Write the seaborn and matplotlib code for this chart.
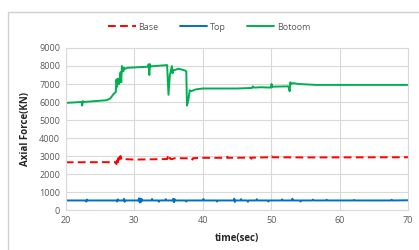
import matplotlib
matplotlib.use('Agg')
import matplotlib.pyplot as plt
import seaborn as sns
import pandas as pd
from matplotlib.patches import Rectangle

# values (time in sec, axial force in kN)
base_t = [20, 27.2, 27.4, 27.5, 27.6, 27.7, 27.8, 27.9, 28.0, 28.1, 28.3, 28.5, 30, 34.8, 34.9, 35.0, 35.2, 35.4, 36,
          38.4, 38.5, 38.6, 40, 43.5, 43.6, 43.7, 47, 47.1, 47.2, 50, 50.1, 50.2, 55, 70]
base_v = [2650, 2660, 2550, 2800, 2600, 2900, 2650, 2950, 3000, 2850, 2900, 2830, 2800, 2830, 2950, 2780, 2900, 2820, 2880,
          2870, 2800, 2880, 2900, 2900, 2960, 2900, 2910, 2850, 2910, 2930, 2980, 2930, 2920, 2930]

top_t = [20, 22.9, 23.0, 23.1, 23.2, 27.4, 27.5, 27.6, 27.7, 28.4, 28.5, 28.6, 28.7, 30.6, 30.7, 30.8, 30.9, 31.0, 31.1, 31.2,
         32.5, 32.6, 32.7, 33.5, 33.6, 33.7, 34.5, 34.6, 34.7, 35.6, 35.7, 35.8, 35.9, 36.0, 37.5, 37.6, 37.7,
         40.0, 40.1, 40.2, 42.0, 42.1, 42.2, 44.5, 44.6, 44.7, 44.8, 45.5, 45.6, 45.7, 46.5, 46.6, 46.7,
         47.8, 47.9, 48.0, 49.5, 49.6, 49.7, 51.5, 51.6, 51.7, 53.0, 53.1, 53.2, 54.2, 54.3, 54.4,
         56.0, 56.1, 56.2, 58.0, 58.1, 58.2, 62.0, 62.1, 62.2, 67.5, 67.6, 67.7, 70]
top_v = [530, 530, 470, 580, 530, 530, 470, 590, 530, 530, 620, 460, 530, 530, 650, 420, 630, 450, 600, 530,
         530, 610, 530, 530, 460, 530, 530, 600, 530, 530, 620, 430, 600, 530, 530, 470, 530,
         530, 610, 530, 530, 470, 530, 530, 630, 450, 530, 530, 600, 530, 530, 460, 530,
         530, 600, 530, 530, 470, 530, 530, 590, 530, 530, 630, 530, 530, 470, 530,
         530, 580, 530, 530, 570, 530, 530, 560, 530, 530, 570, 530, 540]

bottom_t = [20, 22.3, 22.4, 22.5, 22.6, 26, 26.5, 27.0, 27.3, 27.4, 27.5, 27.6, 27.8, 28.0, 28.1, 28.2, 28.4, 28.5, 28.7, 29, 30,
            32.0, 32.1, 32.2, 32.3, 32.4, 34.8, 35.0, 35.2, 35.3, 35.5, 35.6, 35.7, 36.5, 37.4, 37.6, 37.7, 37.9, 38.1, 38.3,
            39, 40, 45, 47.2, 47.3, 47.5, 48.5, 50, 50.05, 50.1, 50.2, 52.5, 52.7, 52.8, 52.9, 53.2, 54, 56.5, 70]
bottom_v = [5950, 6000, 5800, 6050, 6000, 6100, 6200, 6450, 6550, 7250, 6850, 7300, 7000, 7650, 7100, 8000, 7700, 7900, 7850, 7900, 7920,
            7960, 8100, 7500, 8100, 7980, 8050, 6400, 7500, 7650, 8000, 7600, 7750, 7850, 7750, 7700, 5800, 6100, 6650, 6600,
            6700, 6750, 6750, 6780, 6870, 6800, 6820, 6800, 7000, 6830, 6850, 6870, 6600, 7100, 7000, 7050, 7000, 6950, 6950]

df_base = pd.DataFrame({'t': base_t, 'v': base_v})
df_top = pd.DataFrame({'t': top_t, 'v': top_v})
df_bottom = pd.DataFrame({'t': bottom_t, 'v': bottom_v})

sns.set_style('whitegrid')
plt.rcParams['font.family'] = ['Open Sans', 'DejaVu Sans']

fig = plt.figure(figsize=(4.19, 2.5), dpi=100)
ax = fig.add_axes([0.157, 0.16, 0.817, 0.648])

sns.lineplot(data=df_base, x='t', y='v', ax=ax, color='#FF0000', lw=1.4, label='Base', estimator=None, sort=False)
ax.lines[-1].set_dashes([4, 2.2])
sns.lineplot(data=df_top, x='t', y='v', ax=ax, color='#0070C0', lw=1.4, label='Top', estimator=None, sort=False)
sns.lineplot(data=df_bottom, x='t', y='v', ax=ax, color='#00B050', lw=1.4, label='Botoom', estimator=None, sort=False)

ax.set_xlim(20, 70)
ax.set_ylim(0, 9000)
ax.set_xticks(range(20, 71, 10))
ax.set_yticks(range(0, 9001, 1000))
ax.grid(True, color='#d9d9d9', lw=0.8)
for s in ax.spines.values():
    s.set_color('#d9d9d9')
    s.set_linewidth(0.8)
ax.tick_params(axis='both', labelsize=6.5, colors='#595959', length=0, pad=4)
ax.set_xlabel('time(sec)', fontsize=7, fontweight='bold', color='#262626', labelpad=6)
ax.set_ylabel('Axial Force(KN)', fontsize=7, fontweight='bold', color='#262626', labelpad=6)

leg = ax.legend(loc='center', bbox_to_anchor=(0.5, 0.892), bbox_transform=fig.transFigure, ncol=3,
                frameon=False, fontsize=6.5, handlelength=3.0, columnspacing=2.4, handletextpad=0.3)
for txt in leg.get_texts():
    txt.set_color('#595959')

fig.patches.append(Rectangle((8 / 419, -0.1), 1.2, 0.952 + 0.1, transform=fig.transFigure,
                             fill=False, edgecolor='#d0d0d0', lw=1.0))

fig.savefig('out.png', dpi=100)
